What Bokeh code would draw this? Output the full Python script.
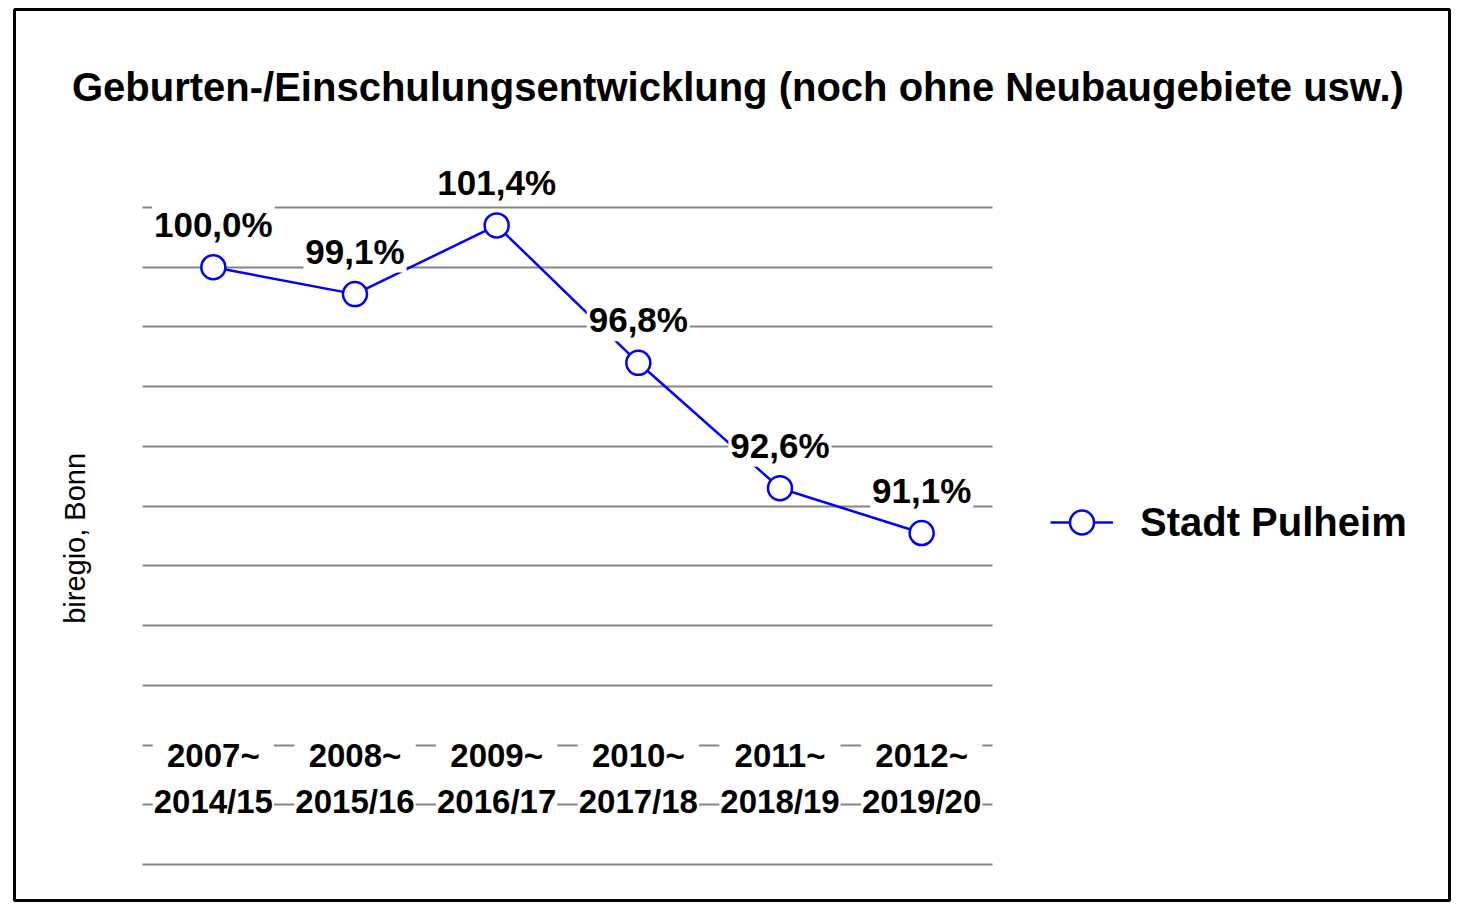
import numpy as np
from bokeh.plotting import figure
from bokeh.models import (Range1d, Grid, SingleIntervalTicker, Legend, LegendItem,
                          Label, ColumnDataSource)
from bokeh.core.properties import value
from bokeh.embed import file_html
from bokeh.resources import INLINE

# ---- data ----
title_text = "Geburten-/Einschulungsentwicklung (noch ohne Neubaugebiete usw.)"
categories = ["2007~\n2014/15", "2008~\n2015/16", "2009~\n2016/17",
              "2010~\n2017/18", "2011~\n2018/19", "2012~\n2019/20"]
values = [100.0, 99.1, 101.4, 96.8, 92.6, 91.1]
value_labels = ["100,0%", "99,1%", "101,4%", "96,8%", "92,6%", "91,1%"]
series_name = "Stadt Pulheim"
source_note = "biregio, Bonn"

FONT_NAME = "Liberation Sans"
FONT = value(FONT_NAME)

x = np.arange(len(categories)) + 0.5
src = ColumnDataSource(dict(x=x, y=values, lab=value_labels))
cat_y = 82.88
cat_src = ColumnDataSource(dict(x=x, y=[cat_y] * len(categories), lab=categories))

p = figure(width=1451, height=902,
           x_range=Range1d(-0.9035, 9.226), y_range=Range1d(78.795, 108.63),
           output_backend="svg", toolbar_location=None,
           x_axis_location=None, y_axis_location=None,
           min_border_left=14, min_border_right=2, min_border_top=9, min_border_bottom=2,
           outline_line_color="black", outline_line_width=3,
           background_fill_color="white", border_fill_color="white")
p.xgrid.visible = False
p.ygrid.visible = False

grid = Grid(dimension=1, ticker=SingleIntervalTicker(interval=2),
            bounds=(80, 102), cross_bounds=(0, len(categories)),
            grid_line_color="#858585", grid_line_width=2)
p.add_layout(grid)

line_r = p.line('x', 'y', source=src, line_color="#0000ff", line_width=2.5)
circ_r = p.scatter('x', 'y', source=src, size=24, fill_color="white",
                   line_color="#0000ff", line_width=2.5)

p.text('x', 'y', 'lab', source=src, y_offset=-43, text_align="center",
       text_baseline="middle", text_font=FONT, text_font_style="bold",
       text_font_size="35px", text_color="black",
       background_fill_color="white", padding=2)

p.text('x', 'y', 'lab', source=cat_src, text_align="center",
       text_baseline="middle", text_font=FONT, text_font_style="bold",
       text_font_size="33px", text_line_height=1.22, text_color="black",
       background_fill_color="white", padding=1)

p.add_layout(Label(x=4.203, y=106.05, text=title_text, text_align="center",
                   text_baseline="middle", text_font=FONT_NAME, text_font_style="bold",
                   text_font_size="40px", text_color="black"))

p.add_layout(Label(x=-0.473, y=90.92, text=source_note, angle=np.pi / 2,
                   text_align="center", text_baseline="middle", text_font=FONT_NAME,
                   text_font_size="29px", text_color="black"))

legend = Legend(items=[LegendItem(label=series_name, renderers=[line_r, circ_r])],
                location=(1036, 348), glyph_width=63, glyph_height=60,
                label_text_font=FONT_NAME, label_text_font_size="40px",
                label_text_font_style="bold", label_text_color="black",
                label_standoff=27, padding=0, margin=0, spacing=0,
                border_line_color=None, background_fill_alpha=0)
p.add_layout(legend)

open("out.html", "w").write(file_html(p, INLINE))
